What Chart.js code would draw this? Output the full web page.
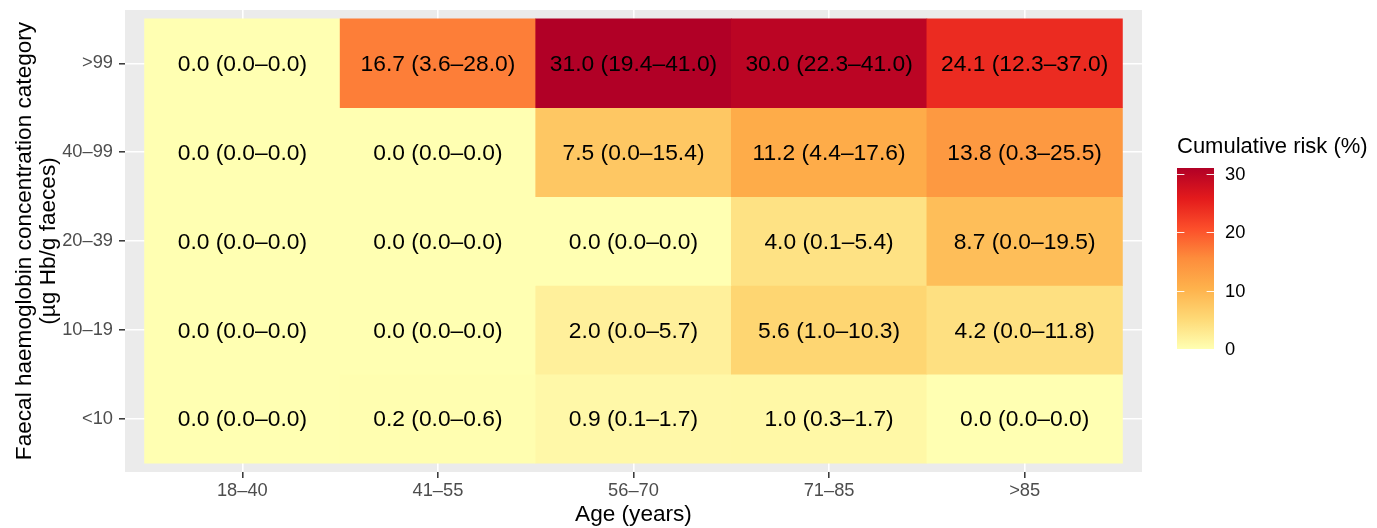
<!DOCTYPE html>
<html>
<head>
<meta charset="utf-8">
<title>Cumulative risk by age and faecal haemoglobin</title>
<script src="https://cdn.jsdelivr.net/npm/chart.js@4/dist/chart.umd.min.js"></script>
<style>
  html, body { margin: 0; padding: 0; background: #fff; }
  canvas { display: block; }
</style>
</head>
<body>
<canvas id="heat" width="1377" height="528"></canvas>
<script>
// columns (x) and rows (y, bottom to top)
const ageGroups = ["18–40", "41–55", "56–70", "71–85", ">85"];
const fhbCategories = ["<10", "10–19", "20–39", "40–99", ">99"];

// cumulative risk (%) with lower / upper limits, one set per FHb row
const riskLt10   = [0.0, 0.2, 0.9, 1.0, 0.0];
const lowerLt10  = [0.0, 0.0, 0.1, 0.3, 0.0];
const upperLt10  = [0.0, 0.6, 1.7, 1.7, 0.0];

const risk10to19  = [0.0, 0.0, 2.0, 5.6, 4.2];
const lower10to19 = [0.0, 0.0, 0.0, 1.0, 0.0];
const upper10to19 = [0.0, 0.0, 5.7, 10.3, 11.8];

const risk20to39  = [0.0, 0.0, 0.0, 4.0, 8.7];
const lower20to39 = [0.0, 0.0, 0.0, 0.1, 0.0];
const upper20to39 = [0.0, 0.0, 0.0, 5.4, 19.5];

const risk40to99  = [0.0, 0.0, 7.5, 11.2, 13.8];
const lower40to99 = [0.0, 0.0, 0.0, 4.4, 0.3];
const upper40to99 = [0.0, 0.0, 15.4, 17.6, 25.5];

const riskGt99  = [0.0, 16.7, 31.0, 30.0, 24.1];
const lowerGt99 = [0.0, 3.6, 19.4, 22.3, 12.3];
const upperGt99 = [0.0, 28.0, 41.0, 41.0, 37.0];

const legendTicks = [0, 10, 20, 30];

const rowsRisk  = [riskLt10, risk10to19, risk20to39, risk40to99, riskGt99];
const rowsLower = [lowerLt10, lower10to19, lower20to39, lower40to99, lowerGt99];
const rowsUpper = [upperLt10, upper10to19, upper20to39, upper40to99, upperGt99];

// YlOrRd (7 classes), low -> high
const palette = ["#FFFFB2", "#FED976", "#FEB24C", "#FD8D3C", "#FC4E2A", "#E31A1C", "#B10026"];
const FONT = "'Liberation Sans', Arial, Helvetica, sans-serif";

let riskMax = 0;
rowsRisk.forEach(r => r.forEach(v => { if (v > riskMax) riskMax = v; }));

function hexRgb(h) {
  return [parseInt(h.slice(1, 3), 16), parseInt(h.slice(3, 5), 16), parseInt(h.slice(5, 7), 16)];
}
function fillFor(v) {
  let t = Math.max(0, Math.min(1, v / riskMax)) * (palette.length - 1);
  let i = Math.min(Math.floor(t), palette.length - 2);
  let f = t - i;
  let a = hexRgb(palette[i]), b = hexRgb(palette[i + 1]);
  let c = a.map((x, k) => Math.round(x + (b[k] - x) * f));
  return "rgb(" + c.join(",") + ")";
}

// one tile per (age, category)
const cells = [];
rowsRisk.forEach((row, r) => {
  row.forEach((v, c) => {
    cells.push({
      x: c + 1,
      y: [r + 0.5, r + 1.5],
      risk: v,
      label: v.toFixed(1) + " (" + rowsLower[r][c].toFixed(1) + "–" + rowsUpper[r][c].toFixed(1) + ")"
    });
  });
});

const panelBg = {
  id: "panelBg",
  beforeDraw(chart) {
    const { ctx, chartArea: a } = chart;
    ctx.save();
    ctx.fillStyle = "#ffffff";
    ctx.fillRect(0, 0, chart.width, chart.height);
    ctx.fillStyle = "#EBEBEB";
    ctx.fillRect(a.left, a.top, a.right - a.left, a.bottom - a.top);
    ctx.restore();
  }
};

const cellText = {
  id: "cellText",
  afterDatasetsDraw(chart) {
    const ctx = chart.ctx;
    const meta = chart.getDatasetMeta(0);
    ctx.save();
    ctx.font = "22.8px " + FONT;
    ctx.fillStyle = "#000000";
    ctx.textAlign = "center";
    ctx.textBaseline = "middle";
    meta.data.forEach((bar, i) => {
      const p = bar.getProps(["x", "y", "base"], true);
      ctx.fillText(cells[i].label, p.x, (p.y + p.base) / 2 + 1.5);
    });
    ctx.restore();
  }
};

const colourBar = {
  id: "colourBar",
  afterDraw(chart) {
    const ctx = chart.ctx;
    const a = chart.chartArea;
    const left = a.right + 35, w = 37;
    const bottom = 349, top = 168;
    const per = (bottom - top) / riskMax;
    ctx.save();
    ctx.font = "22px " + FONT;
    ctx.fillStyle = "#000000";
    ctx.textAlign = "left";
    ctx.textBaseline = "alphabetic";
    ctx.fillText("Cumulative risk (%)", left, 153);

    const g = ctx.createLinearGradient(0, bottom, 0, top);
    palette.forEach((col, i) => g.addColorStop(i / (palette.length - 1), col));
    ctx.fillStyle = g;
    ctx.fillRect(left, top, w, bottom - top);

    ctx.strokeStyle = "rgba(255,255,255,0.9)";
    ctx.lineWidth = 1;
    ctx.font = "18.3px " + FONT;
    ctx.fillStyle = "#000000";
    ctx.textBaseline = "middle";
    legendTicks.forEach(v => {
      const y = Math.round(bottom - v * per) + 0.5;
      ctx.beginPath();
      ctx.moveTo(left, y); ctx.lineTo(left + w / 5, y);
      ctx.moveTo(left + w - w / 5, y); ctx.lineTo(left + w, y);
      ctx.stroke();
      ctx.fillText(String(v), left + w + 11, y);
    });
    ctx.restore();
  }
};

new Chart(document.getElementById("heat"), {
  type: "bar",
  data: {
    datasets: [{
      data: cells,
      backgroundColor: c => c.raw ? fillFor(c.raw.risk) : "#fff",
      borderWidth: 0,
      barPercentage: 1,
      categoryPercentage: 1
    }]
  },
  options: {
    responsive: false,
    devicePixelRatio: 1,
    animation: false,
    layout: { padding: { top: 10, right: 235, left: 0, bottom: 0 } },
    plugins: { legend: { display: false }, tooltip: { enabled: false } },
    scales: {
      x: {
        type: "linear",
        min: 0.4,
        max: 5.6,
        offset: false,
        afterBuildTicks: s => { s.ticks = ageGroups.map((_, i) => ({ value: i + 1 })); },
        afterFit: s => { s.height = 56; s.paddingLeft = 0; s.paddingRight = 0; },
        ticks: {
          callback: v => ageGroups[v - 1],
          color: "#4D4D4D",
          font: { family: FONT, size: 18.3 },
          padding: 2,
          maxRotation: 0,
          autoSkip: false
        },
        grid: { offset: false, color: "#ffffff", lineWidth: 1.6, tickColor: "#333333", tickWidth: 1.5, tickLength: 6 },
        border: { display: false },
        title: { display: true, text: "Age (years)", color: "#000000", font: { family: FONT, size: 22.6, lineHeight: 1.2 }, padding: { top: 0, bottom: 0 } }
      },
      y: {
        type: "linear",
        min: 0.4,
        max: 5.6,
        afterBuildTicks: s => { s.ticks = fhbCategories.map((_, i) => ({ value: i + 1 })); },
        afterFit: s => { s.width = 125; s.paddingTop = 0; s.paddingBottom = 0; },
        ticks: {
          callback: v => fhbCategories[v - 1],
          color: "#4D4D4D",
          font: { family: FONT, size: 18.3 },
          padding: 6,
          autoSkip: false
        },
        grid: { color: "#ffffff", lineWidth: 1.6, tickColor: "#333333", tickWidth: 1.5, tickLength: 6 },
        border: { display: false },
        title: {
          display: true,
          text: ["Faecal haemoglobin concentration category", "(µg Hb/g faeces)"],
          color: "#000000",
          font: { family: FONT, size: 22.6, lineHeight: 1.06 },
          padding: { top: 13, bottom: 0 }
        }
      }
    }
  },
  plugins: [panelBg, cellText, colourBar]
});
</script>
</body>
</html>
